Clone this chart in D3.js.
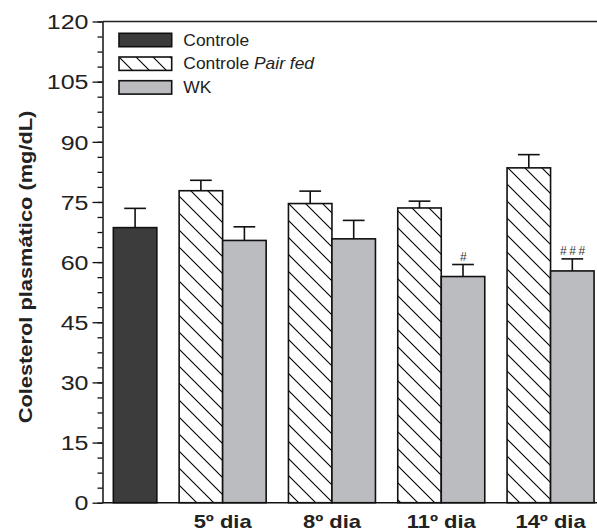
<!DOCTYPE html>
<html>
<head>
<meta charset="utf-8">
<script src="https://cdn.jsdelivr.net/npm/d3@7"></script>
<style>
  body { margin: 0; background: white; }
  svg { display: block; font-family: "Liberation Sans", Arial, sans-serif; }
</style>
</head>
<body>
<svg id="chart" width="597" height="531"></svg>
<script>
// dados
const groups = ["", "5º dia", "8º dia", "11º dia", "14º dia"];
const controleValue = 68.6;
const controleErr = 4.8;
const pairFedValues = [77.8, 74.6, 73.5, 83.5];
const pairFedErr = [2.6, 3.1, 1.7, 3.3];
const wkValues = [65.4, 65.8, 56.4, 57.8];
const wkErr = [3.4, 4.6, 3.0, 3.0];
const wkMarks = ["", "", "#", "###"];
const yTicks = [0, 15, 30, 45, 60, 75, 90, 105, 120];
const legendLabels = ["Controle", "Controle Pair fed", "WK"];

window.addEventListener("load", main);

function main()
{
    const svg = d3.select("svg#chart");
    const width = +svg.attr("width");
    const axisX = 102.5;

    const y = d3.scaleLinear().domain([0, 120]).range([502.7, 21.5]);
    const x = d3.scaleBand().domain(groups).range([58.9, 605]).paddingInner(0.204).paddingOuter(0.1);
    const sub = d3.scaleBand().domain(["pf", "wk"]).range([0, x.bandwidth()]);

    // hachura do Pair fed
    const s = 17;
    svg.append("defs").append("pattern")
        .attr("id", "hatch").attr("patternUnits", "userSpaceOnUse")
        .attr("width", s).attr("height", s)
        .append("path")
        .attr("d", `M0,0L${s},${s}M${s - 2},-2L${s + 2},2M-2,${s - 2}L2,${s + 2}`)
        .attr("stroke", "black").attr("stroke-width", 1.1);

    const fills = { "Controle": "#3c3c3c", "Pair fed": "url(#hatch)", "WK": "#bbbcc0" };

    const rows = [{ group: "", slot: "wk", series: "Controle", value: controleValue, err: controleErr, mark: "" }];
    groups.slice(1).forEach((g, i) => {
        rows.push({ group: g, slot: "pf", series: "Pair fed", value: pairFedValues[i], err: pairFedErr[i], mark: "" });
        rows.push({ group: g, slot: "wk", series: "WK", value: wkValues[i], err: wkErr[i], mark: wkMarks[i] });
    });

    // moldura de cima
    svg.append("line").attr("x1", axisX).attr("x2", width).attr("y1", y(120)).attr("y2", y(120))
        .attr("stroke", "#222").attr("stroke-width", 1.5);

    // barras
    const bx = d => x(d.group) + sub(d.slot);
    const bw = sub.bandwidth();
    svg.selectAll("rect.bar").data(rows).join("rect")
        .attr("class", "bar")
        .attr("x", bx).attr("width", bw)
        .attr("y", d => y(d.value)).attr("height", d => y(0) - y(d.value))
        .attr("fill", d => fills[d.series])
        .attr("stroke", "#111").attr("stroke-width", 1.6);

    // barras de erro (só para cima)
    const eb = svg.selectAll("g.err").data(rows).join("g").attr("class", "err")
        .attr("stroke", "#111").attr("stroke-width", 1.6);
    eb.append("line")
        .attr("x1", d => bx(d) + bw / 2).attr("x2", d => bx(d) + bw / 2)
        .attr("y1", d => y(d.value)).attr("y2", d => y(d.value + d.err));
    eb.append("line")
        .attr("x1", d => bx(d) + bw / 4).attr("x2", d => bx(d) + bw * 3 / 4)
        .attr("y1", d => y(d.value + d.err)).attr("y2", d => y(d.value + d.err));

    svg.selectAll("text.mark").data(rows.filter(d => d.mark)).join("text")
        .attr("class", "mark")
        .attr("x", d => bx(d) + bw / 2 + 1.5).attr("y", d => y(d.value + d.err) - 4)
        .attr("text-anchor", "middle").attr("font-size", 12).attr("letter-spacing", 2.5)
        .attr("fill", "#333")
        .text(d => d.mark);

    // eixo x
    svg.append("line").attr("x1", axisX).attr("x2", width).attr("y1", y(0)).attr("y2", y(0))
        .attr("stroke", "#111").attr("stroke-width", 1.5);

    // eixo y
    const sx = 1.25;
    const yAxis = svg.append("g").attr("transform", `translate(${axisX},0)`)
        .call(d3.axisLeft(y).tickValues(yTicks).tickSize(10).tickSizeOuter(0));
    yAxis.select(".domain").attr("stroke", "#111").attr("stroke-width", 1.5);
    yAxis.selectAll(".tick line").attr("stroke", "#111").attr("stroke-width", 1.3);
    yAxis.selectAll(".tick text")
        .attr("font-size", 20).attr("font-family", "Liberation Sans, Arial, sans-serif")
        .attr("fill", "#222")
        .attr("x", -14 / sx).attr("dy", "0.36em")
        .attr("transform", `scale(${sx},1)`);

    svg.append("g").attr("transform", `translate(${axisX},0)`)
        .call(d3.axisLeft(y).tickValues(d3.range(0, 121, 3.75)).tickSize(5).tickSizeOuter(0).tickFormat(""))
        .call(g => g.select(".domain").remove())
        .selectAll(".tick line").attr("stroke", "#111").attr("stroke-width", 1.3);

    // rótulos do eixo x
    svg.selectAll("text.xlab").data(groups.slice(1)).join("text")
        .attr("class", "xlab")
        .attr("text-anchor", "middle").attr("font-size", 18).attr("font-weight", "bold")
        .attr("fill", "#222")
        .attr("transform", d => `translate(${x(d) + x.bandwidth() / 2},527.5) scale(1.22,1)`)
        .text(d => d);

    // título do eixo y
    svg.append("text")
        .attr("text-anchor", "middle").attr("font-size", 18.5).attr("font-weight", "bold")
        .attr("fill", "#222")
        .attr("transform", "translate(32,267) rotate(-90) scale(1.18,1)")
        .text("Colesterol plasmático (mg/dL)");

    // legenda
    const legendFills = [fills["Controle"], fills["Pair fed"], fills["WK"]];
    const lg = svg.selectAll("g.legend").data(legendLabels).join("g")
        .attr("class", "legend")
        .attr("transform", (d, i) => `translate(119,${33.3 + i * 23.7})`);
    lg.append("rect").attr("width", 52.7).attr("height", 13.4)
        .attr("fill", (d, i) => legendFills[i])
        .attr("stroke", "#111").attr("stroke-width", 1.6);
    const lt = lg.append("text").attr("font-size", 16).attr("fill", "#222")
        .attr("transform", "translate(64.3,12.4) scale(1.09,1)");
    lt.each(function(d) {
        const t = d3.select(this);
        if (d.endsWith("Pair fed")) {
            t.append("tspan").text("Controle ");
            t.append("tspan").attr("font-style", "italic").text("Pair fed");
        } else {
            t.text(d);
        }
    });
}
</script>
</body>
</html>
